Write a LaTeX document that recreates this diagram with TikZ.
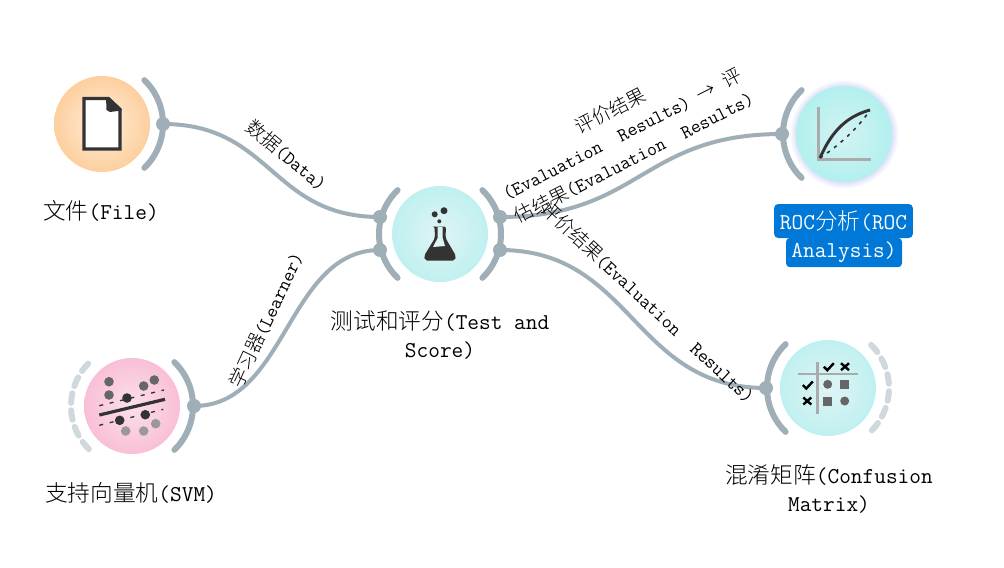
\documentclass[tikz,border=0pt]{standalone}
\usepackage{fontspec}
\newfontfamily\cjk{Noto Sans CJK SC Light}
\newcommand{\cj}[1]{{\cjk #1}}
\usetikzlibrary{calc}
\definecolor{link}{HTML}{A0AEB7}
\definecolor{faint}{HTML}{CFD8DC}
\definecolor{ink}{HTML}{333333}
\definecolor{midg}{HTML}{666666}
\definecolor{ligg}{HTML}{999999}
\definecolor{axisg}{HTML}{ABABAB}
\definecolor{selblue}{HTML}{0078D7}
\definecolor{flaskin}{HTML}{DDF4F5}
\definecolor{fa}{HTML}{FFEEDC}\definecolor{fb}{HTML}{FDCF9E}
\definecolor{pa}{HTML}{FBE0EC}\definecolor{pb}{HTML}{F9BFD6}
\definecolor{ta}{HTML}{E0F4F5}\definecolor{tb}{HTML}{C0F0F0}
\definecolor{ra}{HTML}{D4F3F3}\definecolor{rb}{HTML}{B2F0EE}
\definecolor{halo}{HTML}{D6DCF8}
\pgfdeclareradialshading{fileshade}{\pgfpoint{0bp}{0bp}}{color(0bp)=(fa); color(25bp)=(fb); color(50bp)=(fb)}
\pgfdeclareradialshading{svmshade}{\pgfpoint{0bp}{0bp}}{color(0bp)=(pa); color(25bp)=(pb); color(50bp)=(pb)}
\pgfdeclareradialshading{testshade}{\pgfpoint{0bp}{0bp}}{color(0bp)=(ta); color(25bp)=(tb); color(50bp)=(tb)}
\pgfdeclareradialshading{rocshade}{\pgfpoint{0bp}{0bp}}{color(0bp)=(ra); color(25bp)=(rb); color(50bp)=(rb)}
\pgfdeclareradialshading{haloshade}{\pgfpoint{0bp}{0bp}}{color(0bp)=(halo); color(21.5bp)=(halo); color(25bp)=(white); color(50bp)=(white)}
\tikzset{
  disc/.style={circle,minimum size=72pt,inner sep=0pt,shading=#1},
  port/.style={circle,fill=link,minimum size=10.5pt,inner sep=0pt},
  wire/.style={draw=link,line width=3pt},
  bow/.style={draw=link,line width=4.5pt,line cap=round},
  ghost/.style={draw=faint,line width=4.5pt,line cap=round},
  lab/.style={font=\fontsize{17}{21}\selectfont\ttfamily,inner sep=0pt,align=center},
  elab/.style={font=\fontsize{14.4}{19.5}\selectfont\ttfamily,inner sep=0pt,align=center},
  sel/.style={lab,text=white,fill=selblue,rounded corners=3pt,inner xsep=0pt},
}
\begin{document}
\begin{tikzpicture}[x=0.75pt,y=-0.75pt]
\useasboundingbox (0,0) rectangle (1004,568);
% halo
\node[circle,minimum size=82pt,inner sep=0pt,shading=haloshade] (rochalo) at (844,134) {};
% discs
\node[disc=fileshade] (file) at (102,124) {};
\node[disc=svmshade] (svm) at (132,406) {};
\node[disc=testshade] (test) at (440,234) {};
\node[disc=rocshade] (roc) at (844,134) {};
\node[disc=testshade] (conf) at (828,388) {};
% bows
\draw[bow] ($(file.center)+(-46:61)$) arc[start angle=-46,end angle=46,radius=61];
\draw[bow] ($(svm.center)+(-46:61)$) arc[start angle=-46,end angle=46,radius=61];
\draw[bow] ($(test.center)+(-46:61)$) arc[start angle=-46,end angle=46,radius=61];
\draw[bow] ($(test.center)+(134:61)$) arc[start angle=134,end angle=226,radius=61];
\draw[bow] ($(roc.center)+(134:61)$) arc[start angle=134,end angle=226,radius=61];
\draw[bow] ($(conf.center)+(134:61)$) arc[start angle=134,end angle=226,radius=61];
% dashed bows
\foreach \a in {135,151,167,183,199,215}
  \draw[ghost] ($(svm.center)+(\a:61)$) arc[start angle=\a,delta angle=9,radius=61];
\foreach \a in {-45,-29,-13,3,19,35}
  \draw[ghost] ($(conf.center)+(\a:61)$) arc[start angle=\a,delta angle=9,radius=61];
% ports
\node[port] (fileout) at (163,124) {};
\node[port] (svmout) at (194,406) {};
\node[port] (testa) at (380,217) {};
\node[port] (testb) at (380,250) {};
\node[port] (testc) at (500,217) {};
\node[port] (testd) at (500,250) {};
\node[port] (rocin) at (782,134) {};
\node[port] (confin) at (766,388) {};
% wires
\draw[wire] (fileout.center) .. controls +(109,0) and +(-109,0) .. (testa.center);
\draw[wire] (svmout.center) .. controls +(93,0) and +(-93,0) .. (testb.center);
\draw[wire] (testc.center) .. controls +(141,0) and +(-141,0) .. (rocin.center);
\draw[wire] (testd.center) .. controls +(133,0) and +(-133,0) .. (confin.center);
% file icon
\draw[ink,line width=2.6pt,fill=white,line join=miter] (84,98.5) -- (108,98.5) -- (120,110) -- (120,149) -- (84,149) -- cycle;
\fill[ink] (106,97) -- (109,97) -- (121.5,108.5) -- (121.5,110.5) -- (110,112) -- (106.5,110) -- cycle;
% svm icon
\draw[ink,line width=2.4pt] (99.3,415) -- (165,399.3);
\draw[ink,line width=1pt,dash pattern=on 3pt off 5pt] (99.3,405.7) -- (164,390);
\draw[ink,line width=1pt,dash pattern=on 3pt off 5pt] (99.3,425.3) -- (163.3,409.3);
\foreach \x/\y in {109/381.7,109/395,143.7/386,154.3/380} \fill[midg] (\x,\y) circle[radius=4.8];
\foreach \x/\y in {127/398,145.3/414.7,119.7/420.3} \fill[ink] (\x,\y) circle[radius=4.8];
\foreach \x/\y in {125.7/431,143.7/431,155.7/423.7} \fill[ligg] (\x,\y) circle[radius=4.8];
% flask icon
\fill[ink,rounded corners=1.5pt] (434,226.5) -- (446,226.5) -- (445.5,238) -- (456,256) -- (455,260.5) -- (425,260.5) -- (424,256) -- (435,238) -- (434.5,226.5) -- cycle;
\fill[flaskin] (437.7,227) -- (442.7,227) -- (442.7,238) -- (445,246) -- (433,247) -- (437.7,238) -- cycle;
\fill[ink] (444,210.7) circle[radius=3.5];
\fill[ink] (434.7,214.3) circle[radius=3];
\fill[ink] (439.3,221.3) circle[radius=2];
% roc icon
\draw[axisg,line width=2.2pt] (818.3,106.7) -- (818.3,159.3) -- (871,159.3);
\draw[ink,line width=1.2pt,dash pattern=on 2.5pt off 4pt] (820,158) .. controls (838,146) and (856,130) .. (868,113);
\draw[ink,line width=2.2pt] (820,158) .. controls (832,130) and (848,116) .. (870,110);
% confusion icon
\draw[axisg,line width=2.2pt] (817.3,361.7) -- (817.3,414.3);
\draw[axisg,line width=2.2pt] (798,374) -- (857.7,374);
\foreach \x/\y in {828.3/366.7,807.3/385}
  \draw[black,line width=1.8pt] (\x-4.5,\y) -- (\x-1,\y+3.5) -- (\x+5.5,\y-3.5);
\foreach \x/\y in {845/366.7,807.3/401}
  \draw[black,line width=1.8pt] (\x-4,\y-3.5) -- (\x+4,\y+3.5) (\x-4,\y+3.5) -- (\x+4,\y-3.5);
\fill[midg] (827.7,384.3) circle[radius=4.5];
\fill[midg] (844.7,401) circle[radius=4.5];
\fill[midg] (840.2,379.8) rectangle (849.2,388.8);
\fill[midg] (823.2,396.5) rectangle (832.2,405.5);
% node labels
\node[lab] (filelab) at (101,211) {\cj{文件}(File)};
\node[lab] (svmlab) at (131,493) {\cj{支持向量机}(SVM)};
\node[lab] (testlab) at (440,335) {\cj{测试和评分}(Test and\\Score)};
\node[lab] (conflab) at (829,489) {\cj{混淆矩阵}(Confusion\\Matrix)};
\node[sel,minimum width=104pt,minimum height=25.5pt] (roclaba) at (843.5,221) {ROC\cj{分析}(ROC};
\node[sel,minimum width=87pt,minimum height=22pt] (roclabb) at (844,252.5) {Analysis)};
% edge labels
\node[elab,rotate=-40] (datalab) at (287,155) {\cj{数据}(Data)};
\node[elab,rotate=65] (learnlab) at (266,320) {\cj{学习器}(Learner)};
\node[elab,rotate=27] (evallab) at (622,134) {\cj{评价结果}\\(Evaluation\ \ Results)\ \cj{→}\ \cj{评}\\\cj{估结果}(Evaluation\ \ Results)};
\node[elab,rotate=-43] (evalb) at (648,302) {\cj{评价结果}(Evaluation\ \ Results)};
\end{tikzpicture}
\end{document}
